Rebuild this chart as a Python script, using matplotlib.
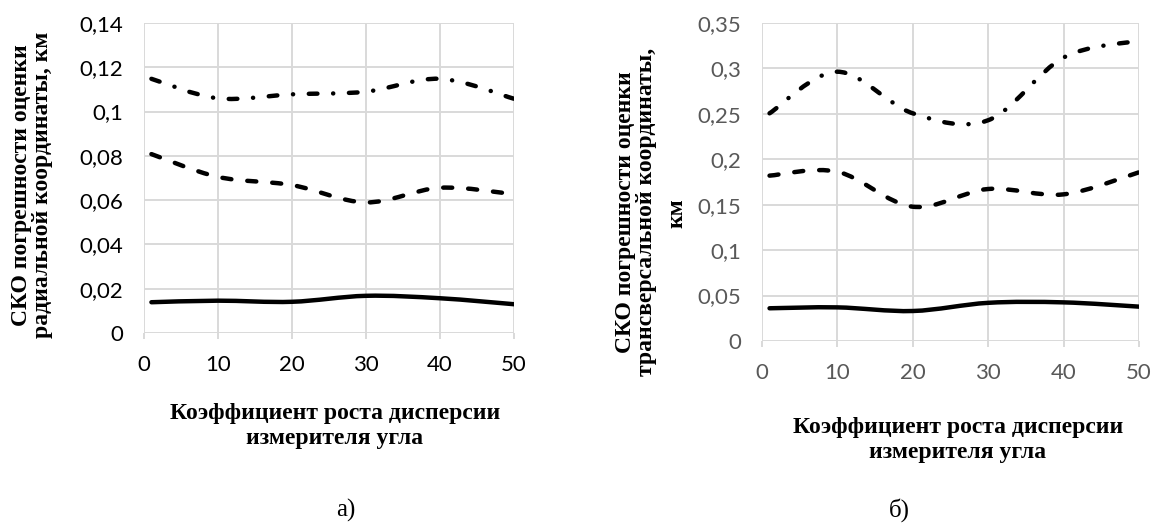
import numpy as np
import matplotlib
matplotlib.use('Agg')
import matplotlib.pyplot as plt
from matplotlib.path import Path
from matplotlib.patches import PathPatch
from matplotlib.ticker import FixedLocator, FuncFormatter

plt.rcParams['lines.scale_dashes'] = False

# данные
x_vals = [1, 10, 20, 30, 40, 50]

# а) радиальная координата
rad_solid = [0.0139, 0.0146, 0.0141, 0.0168, 0.0157, 0.0130]
rad_dash = [0.0808, 0.0705, 0.0668, 0.0590, 0.0656, 0.0627]
rad_dashdot = [0.1148, 0.1060, 0.1078, 0.1090, 0.1148, 0.1058]

# б) трансверсальная координата
tr_solid = [0.0360, 0.0370, 0.0330, 0.0420, 0.0425, 0.0378]
tr_dash = [0.1820, 0.1863, 0.1478, 0.1673, 0.1614, 0.1857]
tr_dashdot = [0.2506, 0.2964, 0.2506, 0.2430, 0.3120, 0.3305]

x_ticks = [0, 10, 20, 30, 40, 50]
rad_yticks = [0, 0.02, 0.04, 0.06, 0.08, 0.1, 0.12, 0.14]
tr_yticks = [0, 0.05, 0.1, 0.15, 0.2, 0.25, 0.3, 0.35]

xlabel_text = 'Коэффициент роста дисперсии\nизмерителя угла'
rad_ylabel = 'СКО погрешности оценки\nрадиальной координаты, км'
tr_ylabel = 'СКО погрешности оценки\nтрансверсальной координаты,'

GRID = '#d9d9d9'
SERIF = 'Liberation Serif'
TICKFONT = 'Lato'


def smooth_line(ax, xs, ys, **kw):
    # сглаженная линия как в Excel (кривые Безье через точки)
    pts = np.column_stack([xs, ys]).astype(float)
    n = len(pts)
    verts = [pts[0]]
    codes = [Path.MOVETO]
    for i in range(n - 1):
        p0 = pts[i - 1] if i > 0 else pts[i]
        p1 = pts[i]
        p2 = pts[i + 1]
        p3 = pts[i + 2] if i + 2 < n else pts[i + 1]
        c1 = p1 + (p2 - p0) / 6
        c2 = p2 - (p3 - p1) / 6
        verts += [c1, c2, p2]
        codes += [Path.CURVE4] * 3
    patch = PathPatch(Path(verts, codes), fill=False, edgecolor='black',
                      capstyle='round', joinstyle='round', **kw)
    ax.add_patch(patch)


def fmt(v, pos):
    return f'{round(v, 3):g}'.replace('.', ',')


def setup(ax, yticks, tick_color):
    ax.set_xlim(0, 50)
    ax.set_ylim(yticks[0], yticks[-1])
    ax.xaxis.set_major_locator(FixedLocator(x_ticks))
    ax.yaxis.set_major_locator(FixedLocator(yticks))
    ax.yaxis.set_major_formatter(FuncFormatter(fmt))
    ax.grid(True, color=GRID, linewidth=1.4)
    ax.set_axisbelow(True)
    for s in ax.spines.values():
        s.set_visible(False)
    ax.tick_params(axis='x', length=4, width=1.4, color=GRID, pad=12,
                   labelsize=16, labelcolor=tick_color)
    ax.tick_params(axis='y', length=0, pad=15, labelsize=16,
                   labelcolor=tick_color)
    for lab in ax.get_xticklabels() + ax.get_yticklabels():
        lab.set_fontfamily(TICKFONT)


fig = plt.figure(figsize=(11.54, 5.28), dpi=100)
ax1 = fig.add_axes([0.1248, 0.3693, 0.3206, 0.5871])
ax2 = fig.add_axes([0.6603, 0.3542, 0.3267, 0.6022])

lw = 3.2
solid = dict(linewidth=lw, linestyle='-')
dashed = dict(linewidth=lw, linestyle=(0, (6.5, 11.5)))
dashdot = dict(linewidth=lw, linestyle=(0, (6.2, 11.3, 0.1, 11.3)))

setup(ax1, rad_yticks, 'black')
smooth_line(ax1, x_vals, rad_solid, **solid)
smooth_line(ax1, x_vals, rad_dash, **dashed)
smooth_line(ax1, x_vals, rad_dashdot, **dashdot)

setup(ax2, tr_yticks, '#595959')
smooth_line(ax2, x_vals, tr_solid, **solid)
smooth_line(ax2, x_vals, tr_dash, **dashed)
smooth_line(ax2, x_vals, tr_dashdot, **dashdot)

W, H = 1154, 528


def ftext(px, py, s, **kw):
    fig.text(px / W, 1 - py / H, s, ha='center', va='center',
             family=SERIF, **kw)


ftext(32, 185, rad_ylabel, rotation=90, fontsize=17, fontweight='bold',
      linespacing=0.95)
ftext(636, 212, tr_ylabel, rotation=90, fontsize=17, fontweight='bold',
      linespacing=0.95)
ftext(677, 213, 'км', rotation=90, fontsize=17, fontweight='bold')

ftext(335, 426, xlabel_text, fontsize=17, fontweight='bold', linespacing=1.2)
ftext(958, 440, xlabel_text, fontsize=17, fontweight='bold', linespacing=1.2)

ftext(346, 510, 'а)', fontsize=18)
ftext(899, 510, 'б)', fontsize=18)

fig.savefig('out.png', dpi=100)
